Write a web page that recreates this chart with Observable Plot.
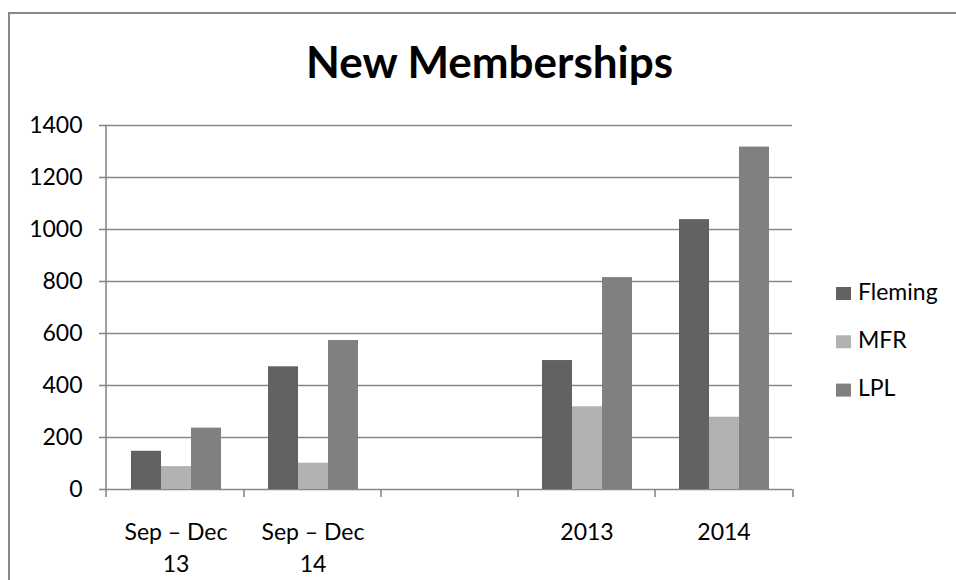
<!DOCTYPE html>
<html>
<head>
<meta charset="utf-8">
<script src="https://cdn.jsdelivr.net/npm/d3@7"></script>
<script src="https://cdn.jsdelivr.net/npm/@observablehq/plot@0.6"></script>
<style>
html, body { margin: 0; padding: 0; background: #fff; }
#wrap { position: relative; width: 956px; height: 580px; overflow: hidden; }
#frame { position: absolute; left: 8px; top: 12px; width: 1100px; height: 1100px;
  border-top: 2px solid #888; border-left: 2px solid #888; pointer-events: none; }
#chart { position: absolute; left: 0; top: 0; }
</style>
</head>
<body>
<div id="wrap"><div id="frame"></div><div id="chart"></div></div>
<script>
const title = "New Memberships";
const categories = ["Sep – Dec\n13", "Sep – Dec\n14", " ", "2013", "2014"];
const series = ["Fleming", "MFR", "LPL"];
const fleming = [147, 472, null, 496, 1038];
const mfr = [88, 101, null, 318, 278];
const lpl = [236, 573, null, 815, 1317];
const colors = ["#626262", "#b2b2b2", "#808080"];
const yTicks = [0, 200, 400, 600, 800, 1000, 1200, 1400];

const seriesValues = [fleming, mfr, lpl];
// keep empty rows so the blank category still gets its facet (and gridlines)
const rows = categories.flatMap((c, i) =>
  series.map((s, j) => ({category: c, series: s, value: seriesValues[j][i]}))
);

const FONT = "Lato, 'Open Sans', sans-serif";
const FS = 23;
const gridColor = "#878787";

const chart = Plot.plot({
  width: 956,
  height: 580,
  marginLeft: 106,
  marginRight: 163,
  marginTop: 125,
  marginBottom: 91,
  style: {fontFamily: FONT, fontSize: FS + "px", color: "#000", background: "none", overflow: "visible"},
  fx: {domain: categories, padding: 0, label: null},
  x: {domain: series, paddingInner: 0, paddingOuter: 0.758, axis: null},
  y: {domain: [0, 1400], label: null},
  color: {domain: series, range: colors},
  marks: [
    Plot.gridY(yTicks, {stroke: gridColor, strokeOpacity: 1, strokeWidth: 1.6, facetAnchor: null}),
    Plot.barY(rows, {fx: "category", x: "series", y: "value", fill: "series", inset: 0}),
    Plot.axisY(yTicks, {tickSize: 8, tickPadding: 17, stroke: gridColor, strokeWidth: 1.6,
      fill: "#000", tickFormat: "d", label: null, facetAnchor: "left"}),
    Plot.axisFx({anchor: "bottom", tickSize: 0, tickPadding: 28, lineHeight: 1.38, fill: "#000", label: null})
  ]
});
document.getElementById("chart").appendChild(chart);

// axis line and category boundary ticks, positioned by the plot's own scales
const svg = d3.select(chart);
const fx = chart.scale("fx");
const y = chart.scale("y");
const [r0, r1] = fx.range;
const step = (r1 - r0) / categories.length;
const y0 = y.apply(0);
const g = svg.append("g").attr("stroke", gridColor).attr("stroke-width", 1.6);
g.append("line").attr("x1", r0).attr("x2", r0).attr("y1", y.apply(1400)).attr("y2", y0 + 8);
for (let i = 1; i <= categories.length; i++) {
  const xx = i < categories.length ? fx.apply(categories[i]) : r0 + i * step;
  g.append("line").attr("x1", xx).attr("x2", xx).attr("y1", y0).attr("y2", y0 + 8);
}

// title sized to the reference width
const ctx = document.createElement("canvas").getContext("2d");
ctx.font = "bold 100px " + FONT;
const tSize = 100 * 368 / ctx.measureText(title).width;
svg.append("text")
  .attr("x", (r0 + r1) / 2 + 40).attr("y", 78.3)
  .attr("text-anchor", "middle")
  .attr("font-family", FONT).attr("font-weight", "bold").attr("font-size", tSize)
  .attr("fill", "#000")
  .text(title);

// legend
const lg = svg.append("g").attr("font-family", FONT).attr("font-size", FS).attr("text-anchor", "start");
series.forEach((s, i) => {
  const row = lg.append("g").attr("transform", `translate(836, ${287 + i * 48.3})`);
  row.append("rect").attr("width", 15).attr("height", 13).attr("fill", colors[i]);
  row.append("text").attr("x", 22).attr("y", 12.5).attr("text-anchor", "start").attr("fill", "#000").text(s);
});
</script>
</body>
</html>
